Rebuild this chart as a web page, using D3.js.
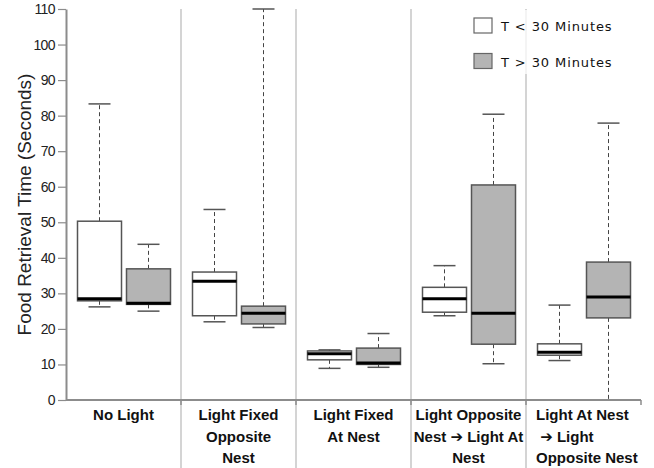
<!DOCTYPE html>
<html>
<head>
<meta charset="utf-8">
<script src="https://cdn.jsdelivr.net/npm/d3@7"></script>
<style>
  body { margin: 0; background: #fff; }
  svg { display: block; }
</style>
</head>
<body>
<svg id="chart" width="654" height="468"></svg>
<script>
// groups (x categories) and their label lines
const groups = ["No Light", "Light Fixed Opposite Nest", "Light Fixed At Nest",
  "Light Opposite Nest -> Light At Nest", "Light At Nest -> Light Opposite Nest"];
const groupLabels = [
  ["No Light"],
  ["Light Fixed", "Opposite", "Nest"],
  ["Light Fixed", "At Nest"],
  ["Light Opposite", "Nest \u2794 Light At", "Nest"],
  ["Light At Nest", " \u2794 Light", "Opposite Nest"]
];
const seriesNames = ["T < 30 Minutes", "T > 30 Minutes"];
const yTicks = [0, 10, 20, 30, 40, 50, 60, 70, 80, 90, 100, 110];

// box stats per group: [lower whisker, q1, median, q3, upper whisker]
const lessThan30 = [
  [26.2, 27.9, 28.5, 50.3, 83.3],
  [22.0, 23.7, 33.4, 36.0, 53.6],
  [8.9, 11.3, 13.0, 13.8, 14.1],
  [23.7, 24.7, 28.5, 31.7, 37.8],
  [11.1, 12.6, 13.4, 15.8, 26.7]
];
const moreThan30 = [
  [25.0, 26.9, 27.2, 36.9, 43.8],
  [20.4, 21.4, 24.4, 26.4, 110],
  [9.2, 10.0, 10.4, 14.6, 18.7],
  [10.2, 15.7, 24.4, 60.5, 80.4],
  [0, 23.1, 29.0, 38.8, 77.9]
];

const svg = d3.select("#chart");
const margin = { top: 9, left: 66, right: 13, bottom: 68 };
const W = 654, H = 468;

const y = d3.scaleLinear().domain([0, 110]).range([H - margin.bottom, margin.top]);
const x = d3.scaleBand().domain(groups).range([margin.left, W - margin.right]).padding(0);
const xs = d3.scalePoint().domain(seriesNames).range([33.5, 82.5]);
const boxW = 44, capW = 22;
const fills = { "T < 30 Minutes": "#ffffff", "T > 30 Minutes": "#b4b4b4" };

// group separators (run through the label area)
svg.append("g")
  .selectAll("line")
  .data(groups.slice(1))
  .join("line")
  .attr("x1", d => x(d)).attr("x2", d => x(d))
  .attr("y1", margin.top).attr("y2", H)
  .attr("stroke", "#d4d4d4")
  .attr("stroke-width", 2);

// legend backdrop, a bit see-through
svg.append("rect")
  .attr("x", 468).attr("y", margin.top + 1)
  .attr("width", 170).attr("height", 64)
  .attr("fill", "#fff").attr("fill-opacity", 0.75);

// y axis
const yAxis = svg.append("g")
  .attr("transform", `translate(${margin.left},0)`)
  .call(d3.axisLeft(y).tickValues(yTicks).tickSize(8).tickPadding(3).tickSizeOuter(0));
yAxis.select(".domain").attr("stroke", "#8c8c8c").attr("stroke-width", 2);
yAxis.selectAll(".tick line").attr("stroke", "#8c8c8c").attr("stroke-width", 1.2);
yAxis.selectAll(".tick text")
  .attr("font-family", "Liberation Sans, Arial, sans-serif")
  .attr("font-size", 14)
  .attr("letter-spacing", -0.6)
  .attr("fill", "#222");

// y title
svg.append("text")
  .attr("transform", `translate(31,${(margin.top + y(0)) / 2}) rotate(-90)`)
  .attr("text-anchor", "middle")
  .attr("font-family", "Liberation Sans, Arial, sans-serif")
  .attr("font-size", 19)
  .attr("fill", "#222")
  .text("Food Retrieval Time (Seconds)");

// x axis baseline with small ticks at the group edges
svg.append("line")
  .attr("x1", margin.left).attr("x2", W - margin.right)
  .attr("y1", y(0)).attr("y2", y(0))
  .attr("stroke", "#8c8c8c").attr("stroke-width", 2);
svg.append("g")
  .selectAll("line")
  .data(groups.slice(1).map(d => x(d)).concat([W - margin.right]))
  .join("line")
  .attr("x1", d => d).attr("x2", d => d)
  .attr("y1", y(0)).attr("y2", y(0) + 5)
  .attr("stroke", "#8c8c8c").attr("stroke-width", 1.5);

// x labels
groups.forEach((g, i) => {
  const lines = groupLabels[i];
  const leftAlign = i === 4;
  const t = svg.append("text")
    .attr("font-family", "Liberation Sans, Arial, DejaVu Sans, sans-serif")
    .attr("font-weight", "bold")
    .attr("font-size", 15)
    .attr("fill", "#111")
    .attr("text-anchor", leftAlign ? "start" : "middle")
    .attr("xml:space", "preserve");
  lines.forEach((ln, j) => {
    t.append("tspan")
      .attr("x", leftAlign ? x(g) + 10 : x(g) + x.bandwidth() / 2)
      .attr("y", 420 + j * 21.5)
      .text(ln);
  });
});

// boxes
const allSeries = [lessThan30, moreThan30];
seriesNames.forEach((s, si) => {
  const data = allSeries[si].map((v, gi) => ({ g: groups[gi], v }));
  const gg = svg.append("g").selectAll("g").data(data).join("g")
    .attr("transform", d => `translate(${x(d.g) + xs(s)},0)`);

  // whiskers
  gg.append("line")
    .attr("x1", 0).attr("x2", 0)
    .attr("y1", d => y(d.v[3])).attr("y2", d => y(d.v[4]))
    .attr("stroke", "#444").attr("stroke-width", 1).attr("stroke-dasharray", "4,3");
  gg.append("line")
    .attr("x1", 0).attr("x2", 0)
    .attr("y1", d => y(d.v[1])).attr("y2", d => y(d.v[0]))
    .attr("stroke", "#444").attr("stroke-width", 1).attr("stroke-dasharray", "4,3");

  // caps
  gg.append("line")
    .attr("x1", -capW / 2).attr("x2", capW / 2)
    .attr("y1", d => y(d.v[4])).attr("y2", d => y(d.v[4]))
    .attr("stroke", "#555").attr("stroke-width", 1.5);
  gg.filter(d => d.v[0] > 0).append("line")
    .attr("x1", -capW / 2).attr("x2", capW / 2)
    .attr("y1", d => y(d.v[0])).attr("y2", d => y(d.v[0]))
    .attr("stroke", "#555").attr("stroke-width", 1.5);

  // box
  gg.append("rect")
    .attr("x", -boxW / 2).attr("width", boxW)
    .attr("y", d => y(d.v[3]))
    .attr("height", d => y(d.v[1]) - y(d.v[3]))
    .attr("fill", fills[s])
    .attr("stroke", "#555").attr("stroke-width", 1.5);

  // median
  gg.append("line")
    .attr("x1", -boxW / 2).attr("x2", boxW / 2)
    .attr("y1", d => y(d.v[2])).attr("y2", d => y(d.v[2]))
    .attr("stroke", "#000").attr("stroke-width", 3);
});

// legend
const leg = svg.append("g").selectAll("g").data(seriesNames).join("g")
  .attr("transform", (d, i) => `translate(474,${18 + i * 35.5})`);
leg.append("rect")
  .attr("width", 18).attr("height", 15)
  .attr("fill", d => fills[d])
  .attr("stroke", "#666").attr("stroke-width", 1.2);
leg.append("text")
  .attr("x", 27).attr("y", 13)
  .attr("font-family", "DejaVu Sans, sans-serif")
  .attr("font-size", 13)
  .attr("letter-spacing", 0.9)
  .attr("fill", "#111")
  .text(d => d);
</script>
</body>
</html>
